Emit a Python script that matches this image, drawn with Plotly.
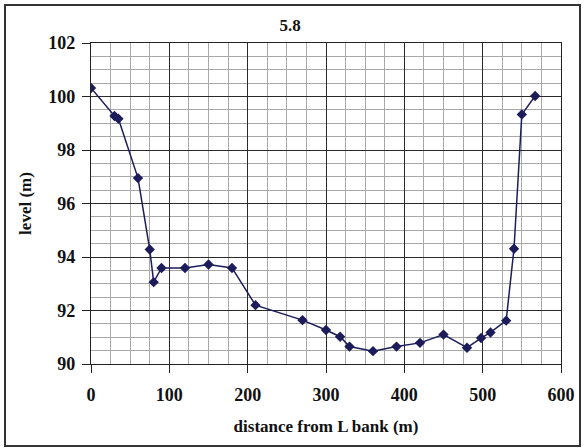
import plotly.graph_objects as go

# Cross-section survey: distance from left bank (m) vs bed level (m)
distance = [0, 30, 35, 60, 75, 80, 90, 120, 150, 180, 210, 270, 300, 318, 330,
            360, 390, 420, 450, 480, 498, 510, 530, 540, 550, 567]
level = [100.32, 99.27, 99.17, 96.95, 94.28, 93.06, 93.59, 93.59, 93.72, 93.59,
         92.2, 91.64, 91.27, 91.02, 90.65, 90.48, 90.65, 90.79, 91.1, 90.61,
         90.97, 91.18, 91.62, 94.31, 99.33, 100.02]

x_ticks = [0, 100, 200, 300, 400, 500, 600]
y_ticks = [90, 92, 94, 96, 98, 100, 102]

W, H = 584, 448
ml, mr, mt, mb = 91, 23, 43, 84
pw, ph = W - ml - mr, H - mt - mb

serif = "Liberation Serif"
ink = "#111111"

fig = go.Figure()
fig.add_trace(go.Scatter(
    x=distance, y=level, mode="lines+markers",
    line=dict(color="#1c1c5a", width=1.5),
    marker=dict(symbol="diamond", size=8, color="#1c1c5a"),
    showlegend=False,
))

axis_common = dict(
    showline=True, linecolor="#222222", linewidth=1.2, mirror=True,
    ticks="outside", ticklen=8, tickwidth=1.2, tickcolor="#222222",
    showgrid=True, gridcolor="#2a2a2a", gridwidth=1.3,
    zeroline=False, automargin=False,
    tickfont=dict(family=serif, size=18, color=ink),
)

fig.update_xaxes(
    range=[0, 600], tickvals=x_ticks,
    ticktext=[f"<b>{v}</b>" for v in x_ticks],
    minor=dict(dtick=25, showgrid=True, gridcolor="#a8a8a8", gridwidth=1,
               ticks=""),
    title=dict(text="<b>distance from L bank (m)</b>",
               font=dict(family=serif, size=17, color=ink), standoff=16),
    ticklabelstandoff=6,
    **axis_common,
)
fig.update_yaxes(
    range=[90, 102], tickvals=y_ticks,
    ticktext=[f"<b>{v}</b>" for v in y_ticks],
    minor=dict(dtick=0.5, showgrid=True, gridcolor="#a8a8a8", gridwidth=1,
               ticks=""),
    title=dict(text="<b>level (m)</b>",
               font=dict(family=serif, size=17, color=ink), standoff=12),
    ticklabelstandoff=3,
    **axis_common,
)

# Outer frame around the whole chart, in paper units relative to the plot area
def px_to_paper_x(px):
    return (px - ml) / pw

def px_to_paper_y(py):
    return (H - mb - py) / ph

fig.add_shape(
    type="rect", xref="paper", yref="paper",
    x0=px_to_paper_x(5), x1=px_to_paper_x(580),
    y0=px_to_paper_y(446), y1=px_to_paper_y(5),
    line=dict(color="#333333", width=2), fillcolor="rgba(0,0,0,0)",
    layer="below",
)

fig.update_layout(
    width=W, height=H,
    margin=dict(l=ml, r=mr, t=mt, b=mb),
    paper_bgcolor="white", plot_bgcolor="white",
    title=dict(text="<b>5.8</b>", x=(290 - ml) / pw, xref="paper",
               xanchor="center", y=1 - 25 / H, yanchor="middle",
               font=dict(family=serif, size=17, color=ink)),
    font=dict(family=serif, color=ink),
)

fig.write_html("out.html")
